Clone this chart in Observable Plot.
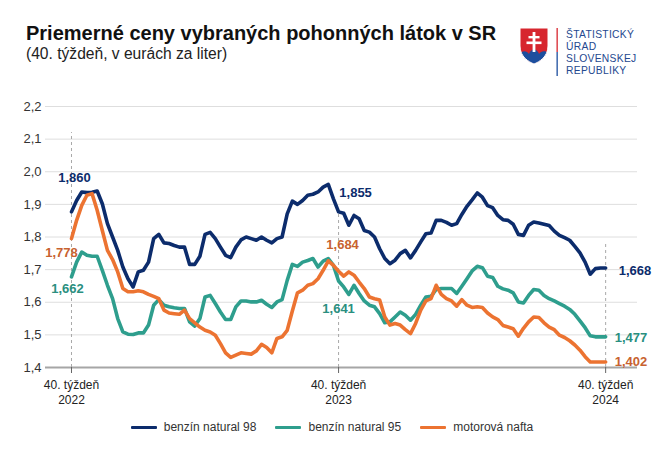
<!DOCTYPE html>
<html><head><meta charset="utf-8">
<script src="https://cdn.jsdelivr.net/npm/d3@7"></script>
<script src="https://cdn.jsdelivr.net/npm/@observablehq/plot@0.6"></script>
<style>
body{margin:0;background:#fff;font-family:"Liberation Sans",Arial,sans-serif;}
#wrap{position:relative;width:660px;height:460px;overflow:hidden;background:#fff;}
#title{position:absolute;left:26px;top:22px;font-size:20px;line-height:23px;font-weight:bold;color:#111;white-space:nowrap;}
#subtitle{position:absolute;left:26px;top:45px;font-size:15.6px;line-height:18px;color:#222;white-space:nowrap;}
#chart{position:absolute;left:0;top:80px;}
#legend{position:absolute;left:0;top:420px;width:660px;display:flex;justify-content:center;gap:19px;font-size:12px;color:#333;padding-left:4px;box-sizing:border-box;}
#legend .it{display:flex;align-items:center;}
#legend .sw{width:26px;height:3px;margin-right:7px;border-radius:1px;}
#logo{position:absolute;left:518px;top:26px;}
.lt{position:absolute;left:566px;font-family:"Liberation Sans",Arial,sans-serif;font-size:10.3px;line-height:11px;height:11px;color:#24488f;white-space:nowrap;letter-spacing:0.3px;}
</style></head>
<body><div id="wrap">
<div id="title">Priemerné ceny vybraných pohonných látok v SR</div>
<div id="subtitle">(40. týždeň, v eurách za liter)</div>
<svg id="logo" width="46" height="52" viewBox="0 0 46 52">
  <defs><clipPath id="sh"><path d="M2,2 H30 V20 C30,31 21,36 16,38 C11,36 2,31 2,20 Z"/></clipPath></defs>
  <g clip-path="url(#sh)">
    <rect x="0" y="0" width="34" height="40" fill="#d7262e"/>
    <path d="M0,40 V30 C4,24 8,24 11,28 C13,22 19,22 21,28 C24,24 28,24 34,30 V40 Z" fill="#1d4f9e"/>
  </g>
  <path d="M2,2 H30 V20 C30,31 21,36 16,38 C11,36 2,31 2,20 Z" fill="none" stroke="#fff" stroke-width="1"/>
  <rect x="14.6" y="6" width="2.8" height="20" fill="#fff"/>
  <rect x="10.5" y="10" width="11" height="2.4" fill="#fff"/>
  <rect x="8.5" y="15.5" width="15" height="2.6" fill="#fff"/>
  <rect x="38.5" y="2" width="1.3" height="24" fill="#d7262e"/>
  <rect x="38.5" y="26" width="1.3" height="24" fill="#1d4f9e"/>
</svg>
<div class="lt" style="top:29px">ŠTATISTICKÝ</div>
<div class="lt" style="top:41px">ÚRAD</div>
<div class="lt" style="top:53px">SLOVENSKEJ</div>
<div class="lt" style="top:65px">REPUBLIKY</div>
<div id="chart"></div>
<div id="legend"></div>
</div>
<script>
// week index 0 = 40. týždeň 2022, 52 = 40. týždeň 2023, 104 = 40. týždeň 2024
const seriesNames = ["benzín natural 98", "benzín natural 95", "motorová nafta"];
const seriesColors = ["#0c2c6c", "#2e9e8d", "#ec7331"];
const labelColors = ["#0c2c6c", "#2a8f80", "#c8622f"];

const benzin98 = [
1.877,1.912,1.938,1.936,1.937,1.941,1.902,1.841,1.800,1.759,
1.708,1.672,1.647,1.693,1.698,1.723,1.795,1.808,1.782,1.780,
1.774,1.769,1.769,1.716,1.716,1.741,1.808,1.814,1.795,1.769,
1.744,1.737,1.769,1.791,1.800,1.795,1.790,1.800,1.790,1.782,
1.795,1.800,1.871,1.910,1.900,1.912,1.928,1.931,1.938,1.953,
1.961,1.917,1.877,1.873,1.836,1.866,1.856,1.820,1.815,1.800,
1.764,1.734,1.718,1.729,1.749,1.759,1.736,1.759,1.785,1.810,
1.812,1.851,1.851,1.845,1.836,1.841,1.869,1.894,1.914,1.935,
1.922,1.896,1.890,1.866,1.853,1.851,1.839,1.808,1.805,1.836,
1.846,1.843,1.839,1.835,1.818,1.805,1.798,1.790,1.771,1.751,
1.723,1.686,1.703,1.705,1.705];

const benzin95 = [
1.678,1.723,1.754,1.744,1.741,1.741,1.698,1.652,1.611,1.550,
1.509,1.502,1.501,1.506,1.506,1.530,1.591,1.608,1.591,1.586,
1.583,1.581,1.581,1.540,1.527,1.550,1.616,1.621,1.596,1.570,
1.547,1.547,1.586,1.604,1.604,1.601,1.601,1.606,1.594,1.584,
1.601,1.608,1.667,1.716,1.710,1.723,1.728,1.734,1.708,1.726,
1.734,1.713,1.665,1.647,1.624,1.652,1.627,1.604,1.591,1.586,
1.565,1.537,1.540,1.555,1.570,1.560,1.545,1.563,1.591,1.616,
1.618,1.639,1.642,1.642,1.642,1.627,1.649,1.672,1.696,1.710,
1.706,1.680,1.676,1.649,1.641,1.637,1.629,1.601,1.598,1.621,
1.639,1.637,1.621,1.611,1.604,1.596,1.588,1.578,1.563,1.543,
1.522,1.497,1.494,1.494,1.494];

const nafta = [
1.795,1.851,1.897,1.928,1.933,1.882,1.820,1.759,1.731,1.693,
1.642,1.632,1.632,1.635,1.632,1.624,1.618,1.611,1.576,1.567,
1.565,1.563,1.576,1.550,1.537,1.524,1.514,1.509,1.499,1.473,
1.445,1.431,1.438,1.445,1.443,1.441,1.451,1.471,1.461,1.445,
1.489,1.494,1.514,1.573,1.629,1.637,1.652,1.657,1.672,1.698,
1.727,1.713,1.695,1.680,1.693,1.683,1.662,1.642,1.616,1.611,
1.607,1.555,1.530,1.535,1.530,1.516,1.504,1.535,1.576,1.604,
1.611,1.652,1.624,1.611,1.604,1.588,1.608,1.591,1.584,1.586,
1.584,1.567,1.555,1.547,1.529,1.524,1.519,1.496,1.520,1.540,
1.555,1.553,1.537,1.524,1.516,1.499,1.492,1.482,1.469,1.453,
1.433,1.417,1.417,1.417,1.417];

const markerWeeks = [0, 52, 104];
const xTickLabels = ["40. týždeň\n2022", "40. týždeň\n2023", "40. týždeň\n2024"];
const markerTops = [2.12, 1.88, 1.78];
const yTicks = [1.4, 1.5, 1.6, 1.7, 1.8, 1.9, 2.0, 2.1, 2.2];
// published values at the marked weeks
const callout98 = [1.860, 1.855, 1.668];
const callout95 = [1.662, 1.641, 1.477];
const calloutNafta = [1.778, 1.684, 1.402];

const seriesData = [benzin98, benzin95, nafta];
const rows = seriesData.flatMap((arr, s) => arr.map((v, i) => ({week: i, value: v, series: seriesNames[s]})));

const callouts = [callout98, callout95, calloutNafta];
// label placement per (series, marker)
const offsets = [
  [{dx:3, dy:-34, a:"middle"}, {dx:17, dy:-19, a:"middle"}, {dx:13, dy:3, a:"start"}],
  [{dx:-4, dy:12, a:"middle"}, {dx:0, dy:28, a:"middle"}, {dx:9, dy:1, a:"start"}],
  [{dx:-10, dy:14, a:"middle"}, {dx:4, dy:-26, a:"middle"}, {dx:9, dy:0, a:"start"}]
];
const fmt3 = v => v.toFixed(3).replace(".", ",");
const labelMarks = [];
callouts.forEach((vals, s) => {
  vals.forEach((v, k) => {
    const w = markerWeeks[k];
    const o = offsets[s][k];
    labelMarks.push(Plot.text([{week: w, value: seriesData[s][w], t: fmt3(v)}], {
      x: "week", y: "value", text: "t", dx: o.dx, dy: o.dy, textAnchor: o.a,
      fill: labelColors[s], fontSize: 13, fontWeight: "bold"
    }));
  });
});

const chart = Plot.plot({
  width: 660,
  height: 340,
  marginLeft: 45,
  marginRight: 23,
  marginTop: 26,
  marginBottom: 53,
  style: {fontFamily: '"Liberation Sans", Arial, sans-serif', background: "transparent", overflow: "visible"},
  x: {type: "linear", domain: [-5.06, 110.2], label: null},
  y: {domain: [1.4, 2.2], label: null},
  color: {domain: seriesNames, range: seriesColors},
  marks: [
    Plot.gridY(yTicks, {stroke: "#dedede", strokeOpacity: 1}),
    Plot.ruleX(markerWeeks.map((w, k) => ({week: w, top: markerTops[k]})), {
      x: "week", y1: 1.4, y2: "top", stroke: "#a8a8a8", strokeDasharray: "3,3", strokeWidth: 1
    }),
    Plot.ruleY([1.4], {stroke: "#a6a6a6", strokeWidth: 2}),
    Plot.line(rows, {x: "week", y: "value", z: "series", stroke: "series", strokeWidth: 3.6, strokeLinejoin: "round", strokeLinecap: "round"}),
    ...labelMarks,
    Plot.axisY(yTicks, {tickSize: 0, tickPadding: 4, fontSize: 13, fill: "#333", label: null, tickFormat: d => d.toFixed(1).replace(".", ",")}),
    Plot.axisX(markerWeeks, {tickSize: 6, tickPadding: 4, fontSize: 12, fill: "#222", stroke: "#666", lineHeight: 1.3, label: null,
      tickFormat: d => xTickLabels[markerWeeks.indexOf(d)]})
  ]
});
document.getElementById("chart").appendChild(chart);

const legend = document.getElementById("legend");
seriesNames.forEach((n, s) => {
  const it = document.createElement("div"); it.className = "it";
  const sw = document.createElement("div"); sw.className = "sw"; sw.style.background = seriesColors[s];
  const tx = document.createElement("span"); tx.textContent = n;
  it.appendChild(sw); it.appendChild(tx); legend.appendChild(it);
});
</script>
</body></html>
